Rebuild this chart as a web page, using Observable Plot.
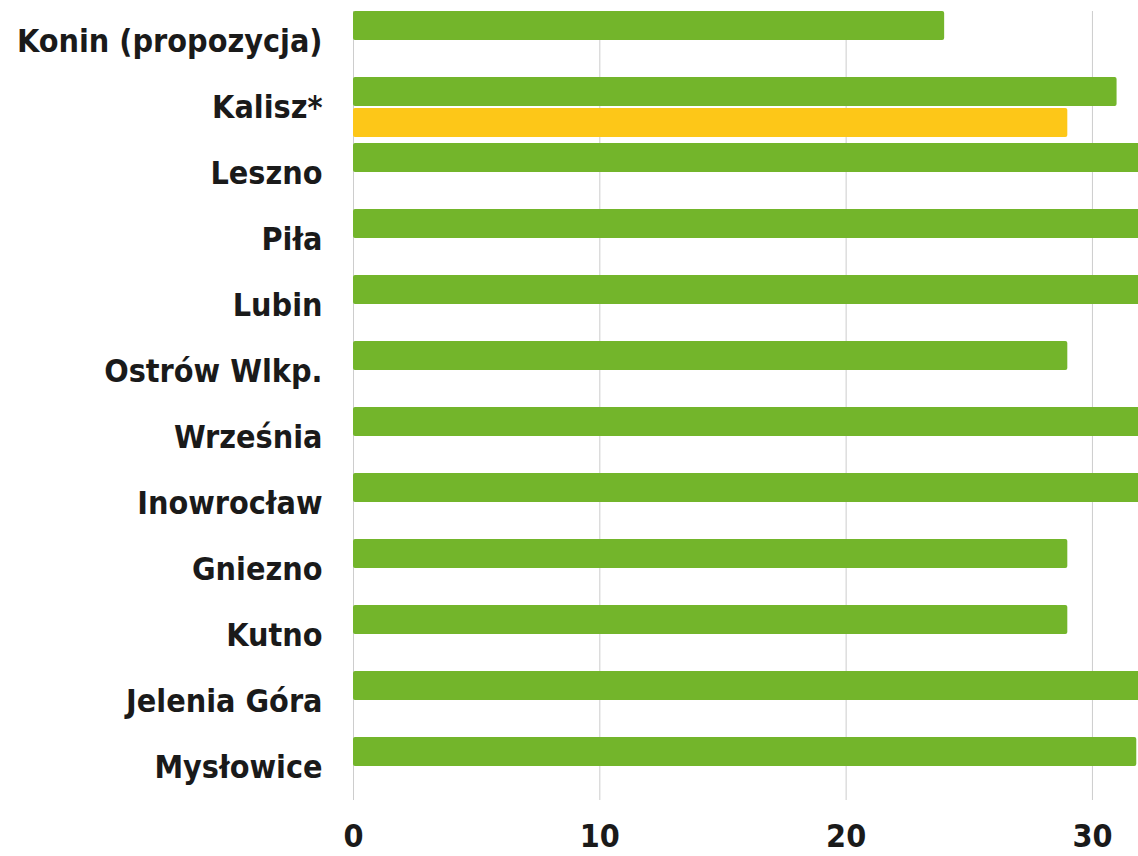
<!DOCTYPE html>
<html>
<head>
<meta charset="utf-8">
<script src="https://cdn.jsdelivr.net/npm/d3@7"></script>
<script src="https://cdn.jsdelivr.net/npm/@observablehq/plot@0.6"></script>
<style>
  html, body { margin: 0; padding: 0; background: #fff; }
  #chart svg { display: block; }
</style>
</head>
<body>
<div id="chart"></div>
<script>
const cities = ["Konin (propozycja)", "Kalisz*", "Leszno", "Piła", "Lubin", "Ostrów Wlkp.", "Września", "Inowrocław", "Gniezno", "Kutno", "Jelenia Góra", "Mysłowice"];
const greenValues = [24, 31, 35, 35, 35, 29, 35, 35, 29, 29, 35, 31.8];
const yellowCities = ["Kalisz*"];
const yellowValues = [29];
const xTicks = [0, 10, 20, 30];

const green = cities.map((c, i) => ({city: c, value: greenValues[i]}));
const yellow = yellowCities.map((c, i) => ({city: c, value: yellowValues[i]}));

const font = "'DejaVu Sans Condensed', 'DejaVu Sans', sans-serif";

const chart = Plot.plot({
  width: 1138,
  height: 856,
  marginLeft: 353,
  marginRight: 0,
  marginTop: 11,
  marginBottom: 56,
  style: {fontFamily: font, fontSize: "32px", fontWeight: "bold", color: "#1a1a1a", background: "#fff"},
  x: {domain: [0, 31.87], ticks: xTicks, tickSize: 0, tickPadding: 24, label: null, tickFormat: d => d},
  y: {domain: cities, paddingInner: 0.095, paddingOuter: 0, align: 0, tickSize: 0, tickPadding: 31, label: null},
  marks: [
    Plot.ruleX(xTicks, {x: d => d, stroke: "#cdcdcd", strokeWidth: 1}),
    Plot.barX(green, {x: "value", y: "city", fill: "#73b52b", insetBottom: 31, rx: 2, clip: true}),
    Plot.barX(yellow, {x: "value", y: "city", fill: "#fdc718", insetTop: 31, rx: 2, clip: true})
  ]
});
document.getElementById("chart").appendChild(chart);
</script>
</body>
</html>
